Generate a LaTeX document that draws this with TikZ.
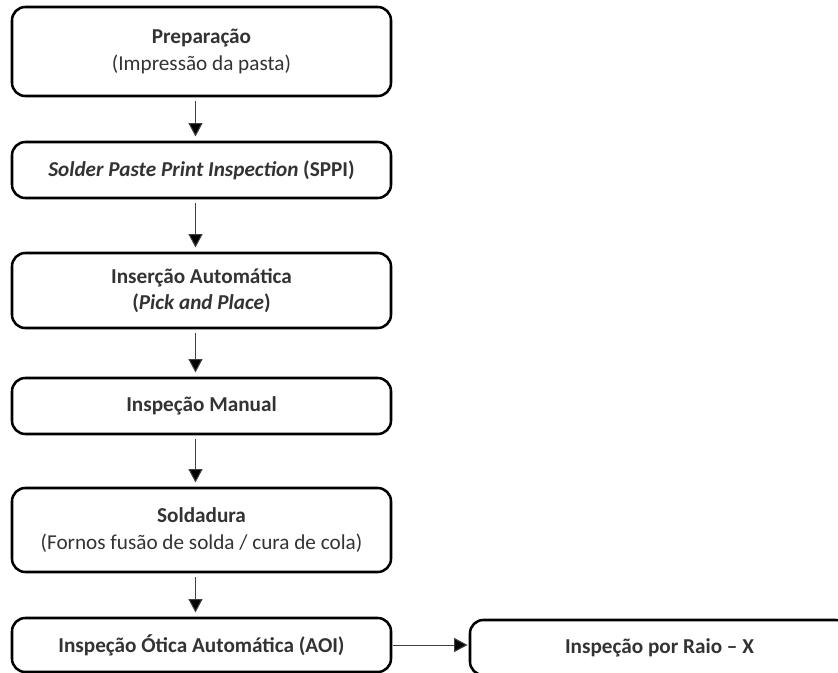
\documentclass[tikz,border=0pt]{standalone}
\usepackage{fontspec}
\setmainfont{Carlito}
\usetikzlibrary{arrows.meta}
\definecolor{txt}{HTML}{333333}
\definecolor{conn}{HTML}{404040}
\tikzset{
  stage/.style={draw=black, line width=1.9pt, rounded corners=10pt,
    minimum width=284.25pt, inner sep=0pt, align=center,
    text=txt, font=\fontsize{15.9}{20}\selectfont},
  flow/.style={draw=conn, line width=0.75pt,
    -{Triangle[width=10.5pt,length=10pt,fill=black]},
    shorten <=3pt, shorten >=3.2pt},
  side/.style={draw=conn, line width=0.75pt,
    -{Triangle[width=10.5pt,length=10pt,fill=black]}}
}
\begin{document}
\begin{tikzpicture}[x=0.75pt,y=-0.75pt]
  \clip (0,0) rectangle (838,673);
  \fill[white] (0,0) rectangle (838,673);

  \node[stage, minimum height=66.75pt] (prep) at (201.5,51.5)
    {\textbf{Preparação}\\(Impressão da pasta)};
  \node[stage, minimum height=42pt] (sppi) at (201.5,170)
    {\textbf{\textit{Solder Paste Print Inspection} (SPPI)}};
  \node[stage, minimum height=56.25pt] (pnp) at (201.5,290.5)
    {\textbf{Inserção Automática}\\\textbf{(\textit{Pick and Place})}};
  \node[stage, minimum height=42pt] (manual) at (201.5,406)
    {\textbf{Inspeção Manual}};
  \node[stage, minimum height=63pt] (solder) at (201.5,530)
    {\textbf{Soldadura}\\(Fornos fusão de solda / cura de cola)};
  \node[stage, minimum height=40.5pt] (aoi) at (201.5,645)
    {\textbf{Inspeção Ótica Automática (AOI)}};
  \node[stage, minimum height=41.25pt] (xray) at (659.5,647.5)
    {\textbf{Inspeção por Raio – X}};

  \draw[flow] ([xshift=-4.5pt]prep.south)   -- ([xshift=-4.5pt]sppi.north);
  \draw[flow] ([xshift=-4.5pt]sppi.south)   -- ([xshift=-4.5pt]pnp.north);
  \draw[flow] ([xshift=-4.5pt]pnp.south)    -- ([xshift=-4.5pt]manual.north);
  \draw[flow] ([xshift=-4.5pt]manual.south) -- ([xshift=-4.5pt]solder.north);
  \draw[flow] ([xshift=-4.5pt]solder.south) -- ([xshift=-4.5pt]aoi.north);
  \draw[side] ([xshift=0.9pt]aoi.east) -- ([xshift=-0.9pt]aoi.east -| xray.west);
\end{tikzpicture}
\end{document}
